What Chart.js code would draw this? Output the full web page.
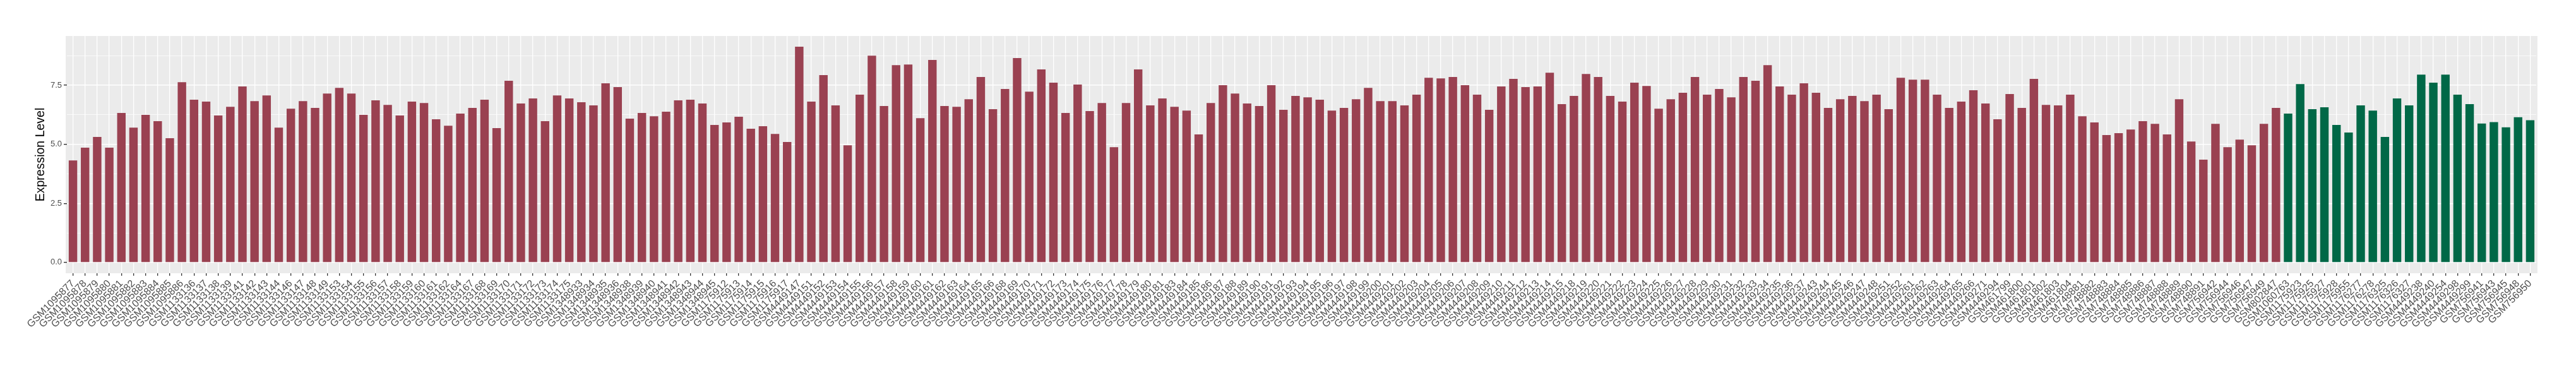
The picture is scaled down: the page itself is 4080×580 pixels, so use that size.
<!DOCTYPE html>
<html>
<head>
<meta charset="utf-8">
<script src="https://cdn.jsdelivr.net/npm/chart.js@4.4.1/dist/chart.umd.min.js"></script>
<style>
  html, body { margin: 0; padding: 0; background: #fff; }
  #wrap { width: 4080px; height: 580px; }
</style>
</head>
<body>
<div id="wrap"><canvas id="chart" width="4080" height="580"></canvas></div>
<script>
// samples of the first group (red bars)
const samplesA = [
  'GSM1095877','GSM1095878','GSM1095879','GSM1095880','GSM1095881','GSM1095882','GSM1095883','GSM1095884','GSM1095885','GSM1095886',
  'GSM1133136','GSM1133137','GSM1133138','GSM1133139','GSM1133141','GSM1133142','GSM1133143','GSM1133144','GSM1133146','GSM1133147',
  'GSM1133148','GSM1133149','GSM1133153','GSM1133154','GSM1133155','GSM1133156','GSM1133157','GSM1133158','GSM1133159','GSM1133160',
  'GSM1133161','GSM1133162','GSM1133164','GSM1133167','GSM1133168','GSM1133169','GSM1133170','GSM1133171','GSM1133172','GSM1133173',
  'GSM1133174','GSM1133175','GSM1348933','GSM1348934','GSM1348935','GSM1348936','GSM1348938','GSM1348939','GSM1348940','GSM1348941',
  'GSM1348942','GSM1348943','GSM1348944','GSM1348945','GSM1175912','GSM1175913','GSM1175914','GSM1175915','GSM1175916','GSM1175917',
  'GSM4449147','GSM4449151','GSM4449152','GSM4449153','GSM4449154','GSM4449155','GSM4449156','GSM4449157','GSM4449158','GSM4449159',
  'GSM4449160','GSM4449161','GSM4449162','GSM4449163','GSM4449164','GSM4449165','GSM4449166','GSM4449168','GSM4449169','GSM4449170',
  'GSM4449171','GSM4449172','GSM4449173','GSM4449174','GSM4449175','GSM4449176','GSM4449177','GSM4449178','GSM4449179','GSM4449180',
  'GSM4449181','GSM4449183','GSM4449184','GSM4449185','GSM4449186','GSM4449187','GSM4449188','GSM4449189','GSM4449190','GSM4449191',
  'GSM4449192','GSM4449193','GSM4449194','GSM4449195','GSM4449196','GSM4449197','GSM4449198','GSM4449199','GSM4449200','GSM4449201',
  'GSM4449202','GSM4449203','GSM4449204','GSM4449205','GSM4449206','GSM4449207','GSM4449208','GSM4449209','GSM4449210','GSM4449211',
  'GSM4449212','GSM4449213','GSM4449214','GSM4449215','GSM4449218','GSM4449219','GSM4449220','GSM4449221','GSM4449222','GSM4449223',
  'GSM4449224','GSM4449225','GSM4449226','GSM4449227','GSM4449228','GSM4449229','GSM4449230','GSM4449231','GSM4449232','GSM4449233',
  'GSM4449234','GSM4449235','GSM4449236','GSM4449237','GSM4449243','GSM4449244','GSM4449245','GSM4449246','GSM4449247','GSM4449248',
  'GSM4449251','GSM4449252','GSM4449261','GSM4449262','GSM4449263','GSM4449264','GSM4449265','GSM4449266','GSM4449271','GSM4449294',
  'GSM461799','GSM461800','GSM461801','GSM461802','GSM461803','GSM461804','GSM748881','GSM748882','GSM748883','GSM748884',
  'GSM748885','GSM748886','GSM748887','GSM748888','GSM748889','GSM748890','GSM748891','GSM756942','GSM756944','GSM756946',
  'GSM756947','GSM756949','GSM802847'
];
const valuesA = [
  4.32, 4.86, 5.31, 4.86, 6.33, 5.71, 6.25, 5.98, 5.26, 7.63,
  6.89, 6.81, 6.22, 6.59, 7.45, 6.83, 7.07, 5.71, 6.51, 6.83,
  6.54, 7.15, 7.39, 7.15, 6.25, 6.86, 6.67, 6.22, 6.81, 6.75,
  6.06, 5.79, 6.30, 6.54, 6.89, 5.69, 7.69, 6.73, 6.94, 5.98,
  7.07, 6.94, 6.78, 6.65, 7.58, 7.42, 6.09, 6.33, 6.19, 6.38,
  6.86, 6.89, 6.73, 5.82, 5.93, 6.17, 5.66, 5.77, 5.44, 5.10,
  9.13, 6.81, 7.93, 6.65, 4.96, 7.10, 8.75, 6.62, 8.35, 8.38,
  6.11, 8.57, 6.62, 6.59, 6.91, 7.85, 6.49, 7.34, 8.65, 7.23,
  8.17, 7.61, 6.33, 7.53, 6.41, 6.75, 4.88, 6.75, 8.17, 6.65,
  6.94, 6.59, 6.43, 5.42, 6.75, 7.50, 7.15, 6.73, 6.62, 7.50,
  6.46, 7.05, 6.99, 6.89, 6.43, 6.54, 6.91, 7.39, 6.83, 6.83,
  6.65, 7.10, 7.82, 7.79, 7.85, 7.50, 7.10, 6.46, 7.45, 7.77,
  7.42, 7.45, 8.03, 6.70, 7.05, 7.98, 7.85, 7.05, 6.81, 7.61,
  7.47, 6.51, 6.91, 7.18, 7.85, 7.10, 7.34, 6.99, 7.85, 7.69,
  8.35, 7.45, 7.10, 7.58, 7.18, 6.54, 6.91, 7.05, 6.83, 7.10,
  6.49, 7.82, 7.74, 7.74, 7.10, 6.54, 6.81, 7.29, 6.73, 6.06,
  7.13, 6.54, 7.77, 6.67, 6.65, 7.10, 6.19, 5.93, 5.39, 5.47,
  5.63, 5.98, 5.87, 5.42, 6.91, 5.12, 4.35, 5.87, 4.88, 5.20,
  4.96, 5.87, 6.54
];
// samples of the second group (green bars)
const samplesB = [
  'GSM1060763','GSM1175923','GSM1175925','GSM1175927','GSM1175928','GSM1175955','GSM1176277','GSM1176278','GSM1176325','GSM1176326',
  'GSM1176327','GSM4449238','GSM4449240','GSM4449254','GSM4449298','GSM4449299','GSM756941','GSM756943','GSM756945','GSM756948',
  'GSM756950'
];
const valuesB = [
  6.30, 7.55, 6.49, 6.57, 5.82, 5.50, 6.65, 6.43, 5.31, 6.94,
  6.65, 7.95, 7.61, 7.95, 7.10, 6.70, 5.88, 5.94, 5.72, 6.15,
  6.02
];
const yTicks = [0, 2.5, 5, 7.5];
const yMinor = [1.25, 3.75, 6.25, 8.75];

const colorA = '#9A4151';
const colorB = '#006847';

const labels = samplesA.concat(samplesB);
const values = valuesA.concat(valuesB);
const colors = samplesA.map(() => colorA).concat(samplesB.map(() => colorB));

const maxValue = Math.max(...values);

// grey ggplot-like panel, a bit wider than the bars (0.6 of a slot each side)
const panelBackground = {
    id: 'panelBackground',
    beforeDraw(chart) {
        const { ctx, chartArea } = chart;
        const pad = 0.1 * chartArea.width / labels.length;
        ctx.save();
        ctx.fillStyle = '#EBEBEB';
        ctx.fillRect(chartArea.left - pad, chartArea.top, chartArea.width + 2 * pad, chartArea.height);
        ctx.restore();
    }
};

const font = "'Liberation Sans', Arial, sans-serif";

new Chart(document.getElementById('chart'), {
    type: 'bar',
    data: {
        labels: labels,
        datasets: [{
            label: 'Expression Level',
            data: values,
            backgroundColor: colors,
            borderWidth: 0,
            barPercentage: 0.7,
            categoryPercentage: 1.0
        }]
    },
    options: {
        responsive: false,
        animation: false,
        devicePixelRatio: 1,
        layout: { padding: { left: 49, right: 63, top: 57, bottom: 0 } },
        plugins: {
            legend: { display: false },
            tooltip: { enabled: false }
        },
        scales: {
            x: {
                offset: true,
                border: { display: false },
                grid: {
                    offset: false,
                    color: '#FFFFFF',
                    lineWidth: 1.3,
                    tickColor: '#333333',
                    tickLength: 4
                },
                ticks: {
                    autoSkip: false,
                    maxRotation: 45,
                    minRotation: 45,
                    padding: 3,
                    color: '#4D4D4D',
                    font: { family: font, size: 16 }
                },
                afterFit(scale) { scale.height = 580 - 433; }
            },
            y: {
                min: -0.05 * maxValue,
                max: 1.05 * maxValue,
                border: { display: false },
                afterBuildTicks(scale) {
                    scale.ticks = yTicks.concat(yMinor).sort((a, b) => a - b).map(v => ({ value: v }));
                },
                grid: {
                    color: '#FFFFFF',
                    lineWidth: ctx => (yTicks.includes(ctx.tick.value) ? 1.4 : 0.7),
                    tickColor: ctx => (yTicks.includes(ctx.tick.value) ? '#333333' : 'rgba(0,0,0,0)'),
                    tickLength: 5
                },
                ticks: {
                    color: '#4D4D4D',
                    padding: 3,
                    font: { family: font, size: 13 },
                    callback: v => (yTicks.includes(v) ? v.toFixed(1) : '')
                },
                title: {
                    display: true,
                    text: 'Expression Level',
                    color: '#000000',
                    font: { family: font, size: 19.5, weight: 'normal' },
                    padding: 4
                },
                afterFit(scale) { scale.width = 106 - 49; }
            }
        }
    },
    plugins: [panelBackground]
});
</script>
</body>
</html>
